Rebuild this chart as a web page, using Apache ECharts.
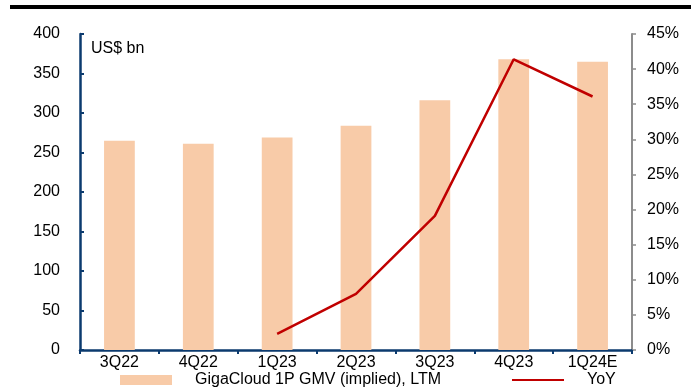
<!DOCTYPE html>
<html>
<head>
<meta charset="utf-8">
<script src="https://cdn.jsdelivr.net/npm/echarts@6/dist/echarts.min.js"></script>
<style>
  html, body { margin: 0; padding: 0; background: #fff; }
  #chart { width: 691px; height: 387px; }
</style>
</head>
<body>
<div id="chart"></div>
<script>
// Quarterly categories
const quarters = ['3Q22', '4Q22', '1Q23', '2Q23', '3Q23', '4Q23', '1Q24E'];
// GigaCloud 1P GMV (implied), LTM, US$ bn
const gmvLtm = [265, 261, 269, 284, 316, 368, 365];
// Year-over-year growth (fraction); no value for the first two quarters
const yoy = [null, null, 0.023, 0.080, 0.191, 0.414, 0.361];
// Axis tick settings
const leftTicks = { min: 0, max: 400, interval: 50 };
const rightTicks = { min: 0, max: 0.45, interval: 0.05 };

const navy = '#0b3a6e';
const grey = '#8c8c8c';
const font = 'Liberation Sans, Arial, sans-serif';
const fs = 16;

const chart = echarts.init(document.getElementById('chart'));
chart.setOption({
  animation: false,
  textStyle: { fontFamily: font },
  graphic: [
    { type: 'rect', shape: { x: 10, y: 5, width: 681, height: 4 }, style: { fill: '#000' } },
    { type: 'text', left: 91, top: 41, style: { text: 'US$ bn', font: fs + 'px ' + font, fill: '#000' } }
  ],
  legend: {
    top: 372,
    left: 120,
    itemGap: 71,
    itemWidth: 52,
    itemHeight: 10,
    padding: 0,
    textStyle: { fontSize: fs, color: '#000', fontFamily: font, padding: [0, 0, 0, 18] },
    data: [
      { name: 'GigaCloud 1P GMV (implied), LTM', icon: 'rect' },
      { name: 'YoY', icon: 'path://M0,4 L52,4 L52,6 L0,6 Z', itemStyle: { color: '#c00000' } }
    ]
  },
  grid: { left: 80, right: 59, top: 34, bottom: 37 },
  xAxis: {
    type: 'category',
    data: quarters,
    axisLine: { lineStyle: { color: navy, width: 2.5 } },
    axisTick: { show: true, length: 4, lineStyle: { color: navy, width: 2 } },
    axisLabel: { color: '#000', fontSize: fs, margin: 5 }
  },
  yAxis: [
    {
      type: 'value',
      min: leftTicks.min, max: leftTicks.max, interval: leftTicks.interval,
      axisLine: { show: true, lineStyle: { color: navy, width: 2.5 } },
      axisTick: { show: true, inside: true, length: 4, lineStyle: { color: navy, width: 2 } },
      axisLabel: { color: '#000', fontSize: fs, margin: 20 },
      splitLine: { show: false }
    },
    {
      type: 'value',
      position: 'right',
      min: rightTicks.min, max: rightTicks.max, interval: rightTicks.interval,
      axisLine: { show: true, lineStyle: { color: grey, width: 2 } },
      axisTick: { show: true, length: 4, lineStyle: { color: grey, width: 1.5 } },
      axisLabel: {
        color: '#000', fontSize: fs, margin: 15,
        formatter: v => Math.round(v * 100) + '%'
      },
      splitLine: { show: false }
    }
  ],
  series: [
    {
      name: 'GigaCloud 1P GMV (implied), LTM',
      type: 'bar',
      data: gmvLtm,
      barWidth: '39%',
      itemStyle: { color: '#f8cba8' },
      yAxisIndex: 0
    },
    {
      name: 'YoY',
      type: 'line',
      data: yoy,
      yAxisIndex: 1,
      showSymbol: false,
      symbol: 'none',
      lineStyle: { color: '#c00000', width: 2.5 },
      itemStyle: { color: '#c00000' }
    }
  ]
});
</script>
</body>
</html>
